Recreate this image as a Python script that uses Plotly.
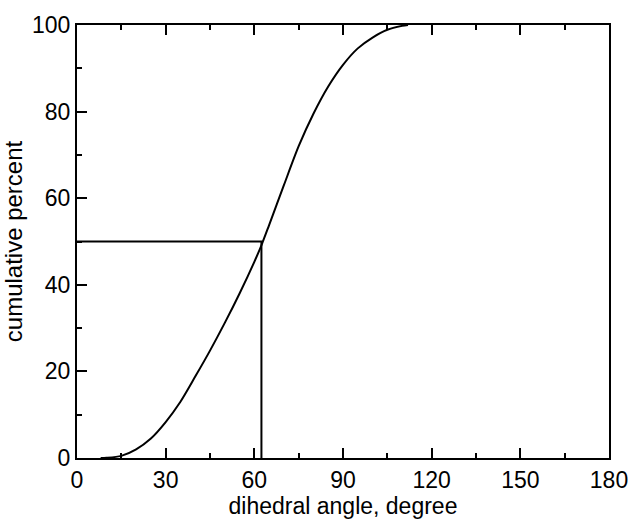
import plotly.graph_objects as go

angle = [8, 10, 15, 20, 25, 30, 35, 40, 45, 50, 55, 60, 62.5, 65, 70, 75, 80, 85, 90, 95, 100, 105, 110, 112]
cum_pct = [0, 0.05, 0.5, 2.0, 4.5, 8.3, 13.0, 18.8, 24.8, 31.2, 38.0, 45.3, 49.3, 53.8, 63.0, 72.0, 79.5, 85.8, 90.8, 94.6, 97.1, 98.9, 99.8, 100]

ref_x = [0, 62.4, 62.4]
ref_y = [50, 50, 0]

x_ticks = [0, 30, 60, 90, 120, 150, 180]
y_ticks = [0, 20, 40, 60, 80, 100]

fig = go.Figure()
fig.add_trace(go.Scatter(x=angle, y=cum_pct, mode="lines",
                         line=dict(color="black", width=2, shape="spline", smoothing=0.8),
                         showlegend=False, hoverinfo="skip"))
fig.add_trace(go.Scatter(x=ref_x, y=ref_y, mode="lines",
                         line=dict(color="black", width=2),
                         showlegend=False, hoverinfo="skip"))

font = "Liberation Sans, Arial, sans-serif"
fs = 23
fig.update_layout(
    width=629, height=520,
    margin=dict(l=77, r=20, t=25, b=62),
    plot_bgcolor="white", paper_bgcolor="white",
    font=dict(family=font, size=fs, color="black"),
    xaxis=dict(range=[0, 180], tickvals=x_ticks, ticks="inside", ticklen=10, tickwidth=2,
               tickcolor="black", showline=True, linecolor="black", linewidth=2,
               mirror="ticks", showgrid=False, zeroline=False, automargin=False,
               minor=dict(dtick=15, ticks="inside", ticklen=5, tickwidth=2, tickcolor="black"),
               title=dict(text="dihedral angle, degree", font=dict(size=fs), standoff=6),
               tickfont=dict(size=fs)),
    yaxis=dict(range=[0, 100], tickvals=y_ticks, ticks="inside", ticklen=10, tickwidth=2,
               tickcolor="black", showline=True, linecolor="black", linewidth=2,
               mirror=True, showgrid=False, zeroline=False, automargin=False,
               minor=dict(dtick=10, ticks="inside", ticklen=5, tickwidth=2, tickcolor="black"),
               title=dict(text="cumulative percent", font=dict(size=24), standoff=8),
               tickfont=dict(size=fs)),
)
fig.write_html("out.html", config={"displayModeBar": False},
               post_script="document.body.style.margin='0';")
